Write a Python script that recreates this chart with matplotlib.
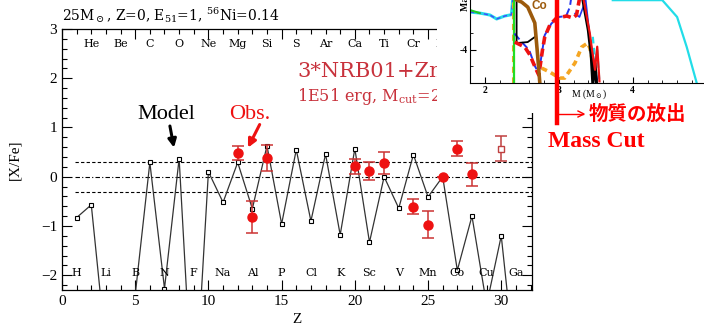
import matplotlib
matplotlib.use("Agg")
import matplotlib.pyplot as plt
from matplotlib.ticker import MultipleLocator, FixedLocator
from matplotlib.lines import Line2D
import numpy as np

plt.rcParams['font.family'] = ['Liberation Serif', 'DejaVu Serif']
plt.rcParams['mathtext.fontset'] = 'dejavuserif'

# ---------------- data ----------------
Z = list(range(1, 32))
model = [-0.83, -0.57, -3.5, -5.0, -2.4, 0.29, -2.27, 0.37, -5.0, 0.10,
         -0.52, 0.29, -0.65, 0.63, -0.96, 0.55, -0.90, 0.46, -1.18, 0.57,
         -1.33, 0.0, -0.64, 0.45, -0.41, 0.0, -1.90, -0.80, -2.6, -1.20, -4.0]

obs_Z = [12, 13, 14, 20, 21, 22, 24, 25, 26, 27, 28]
obs_val = [0.48, -0.82, 0.38, 0.21, 0.11, 0.28, -0.61, -0.97, 0.0, 0.57, 0.05]
obs_err = [0.15, 0.32, 0.27, 0.16, 0.18, 0.23, 0.15, 0.27, 0.0, 0.15, 0.23]
open_Z = [30]
open_val = [0.57]
open_err = [0.25]

ref_levels = [0.3, 0.0, -0.3]
top_elems = ['He', 'Be', 'C', 'O', 'Ne', 'Mg', 'Si', 'S', 'Ar', 'Ca', 'Ti', 'Cr', 'Fe', 'Ni', 'Zn']
top_Z = list(range(2, 31, 2))
bot_elems = ['H', 'Li', 'B', 'N', 'F', 'Na', 'Al', 'P', 'Cl', 'K', 'Sc', 'V', 'Mn', 'Co', 'Cu', 'Ga']
bot_Z = list(range(1, 32, 2))

# inset (mass-coordinate profiles), M in Msun, y = log10 X
cyan_top_M = [1.80, 1.93, 2.07, 2.16, 2.27, 2.36, 2.38]
cyan_top_y = [-2.85, -2.88, -2.94, -3.06, -2.97, -2.93, -2.40]
cyan_r_M = [3.73, 4.40, 4.60, 4.73, 4.865]
cyan_r_y = [-2.49, -2.49, -3.0, -3.91, -5.0]
cyan_d_M = [3.46, 3.49, 3.52, 3.55]
cyan_d_y = [-3.6, -4.3, -4.0, -5.0]
green_M = [1.80, 1.93]
green_y = [-2.79, -2.88]
green_v_M = [2.395, 2.395]
green_v_y = [-5.0, -2.4]
orange_v_M = [2.375, 2.375]
orange_v_y = [-5.0, -2.4]
orange_M = [2.77, 2.88, 3.01, 3.08, 3.22, 3.31, 3.39, 3.42, 3.47]
orange_y = [-4.55, -4.67, -4.85, -4.85, -4.39, -3.91, -3.79, -3.94, -4.5]
brown_M = [2.432, 2.50, 2.581, 2.676, 2.716, 2.743]
brown_y = [-2.485, -2.55, -2.70, -3.18, -4.21, -4.97]
black_M = [2.43, 2.43, 2.58, 2.68]
black_y = [-2.4, -3.79, -3.76, -3.60]
black_d_M = [3.32, 3.40, 3.44, 3.46, 3.49, 3.51]
black_d_y = [-2.4, -3.4, -4.2, -5.0, -4.4, -5.0]
red_M = [2.405, 2.54, 2.61, 2.68, 2.73, 2.78, 2.81, 2.88, 2.97, 3.11, 3.19, 3.24, 3.28]
red_y = [-3.76, -3.91, -4.15, -4.52, -4.76, -4.0, -3.61, -3.24, -3.03, -2.97, -3.03, -2.94, -2.45]
red_d_M = [3.33, 3.42, 3.45, 3.49, 3.52, 3.55]
red_d_y = [-2.4, -3.5, -4.0, -4.6, -3.9, -4.95]
blue_M = [2.40, 2.50, 2.60, 2.68, 2.73, 2.81, 2.90, 3.00, 3.10, 3.15, 3.17]
blue_y = [-3.5, -3.76, -4.0, -4.5, -4.7, -3.55, -3.2, -3.0, -2.97, -2.7, -2.4]
blue_s_M = [3.22, 3.28, 3.33, 3.36, 3.42, 3.47, 3.52]
blue_s_y = [-2.9, -3.0, -2.7, -2.4, -3.6, -4.3, -4.9]

# ---------------- figure ----------------
W, H = 704, 328
fig = plt.figure(figsize=(W / 100, H / 100), dpi=100)

def fx(px):
    return px / W

def fy(py):
    return 1 - py / H

ax = fig.add_axes([fx(62), fy(290), fx(532) - fx(62), fy(29) - fy(290)])
ax.set_xlim(0, 32.1)
ax.set_ylim(-2.3, 3)

for lvl, ls in zip(ref_levels, [(0, (3, 2)), (0, (4, 2, 1, 2)), (0, (3, 2))]):
    ax.plot([0.9, 32.1], [lvl, lvl], color='black', lw=0.8, linestyle=ls)

ax.plot(Z, model, color='#333333', lw=0.9, marker='s', ms=3.2,
        mfc='white', mec='black', mew=0.8)

ax.errorbar(obs_Z, obs_val, yerr=obs_err, fmt='o', color='#ee1111', ms=6.5,
            ecolor='#cc3333', elinewidth=1.1, capsize=4, capthick=1.1, zorder=5)
ax.errorbar(open_Z, open_val, yerr=open_err, fmt='s', color='#c04040', ms=5,
            mfc='white', mec='#c04040', ecolor='#c04040', elinewidth=1.1,
            capsize=4, capthick=1.1, zorder=5)

for z, e in zip(top_Z, top_elems):
    ax.text(z, 2.69, e, ha='center', va='center', fontsize=8, family='DejaVu Serif')
for z, e in zip(bot_Z, bot_elems):
    ax.text(z, -1.96, e, ha='center', va='center', fontsize=8, family='DejaVu Serif')

ax.xaxis.set_major_locator(MultipleLocator(5))
ax.xaxis.set_minor_locator(MultipleLocator(1))
ax.yaxis.set_major_locator(MultipleLocator(1))
ax.yaxis.set_minor_locator(MultipleLocator(0.2))
ax.tick_params(which='both', direction='in', top=True, right=True, labelsize=11, width=0.8)
ax.tick_params(which='major', length=7)
ax.tick_params(which='minor', length=3.5)
for s in ax.spines.values():
    s.set_linewidth(0.9)
ax.set_xlabel('Z', fontsize=11, labelpad=4)
ax.set_ylabel('[X/Fe]', fontsize=11, labelpad=14)

ax.text(7.1, 1.27, 'Model', fontsize=16, ha='center', va='center', color='black')
ax.annotate('', xy=(7.65, 0.59), xytext=(7.37, 1.03),
            arrowprops=dict(arrowstyle='-|>', color='black', lw=2.2, mutation_scale=12,
                            shrinkA=0, shrinkB=0))
ax.text(12.8, 1.27, 'Obs.', fontsize=16, ha='center', va='center', color='#ee1111')
ax.annotate('', xy=(12.7, 0.59), xytext=(13.5, 1.06),
            arrowprops=dict(arrowstyle='-|>', color='#ee1111', lw=2.2, mutation_scale=12,
                            shrinkA=0, shrinkB=0))

ax.text(16.05, 2.14, '3*NRB01+Zn', fontsize=15, color='#c8323c', ha='left', va='center',
        family='DejaVu Serif')
ax.text(16.05, 1.63, r'1E51 erg, M$_{\rm cut}$=2.0M$_\odot$', fontsize=11.5,
        color='#c8323c', ha='left', va='center', family='DejaVu Serif')

fig.text(fx(62), fy(15), r'25M$_\odot$, Z=0, E$_{51}$=1, $^{56}$Ni=0.14',
         fontsize=10, ha='left', va='center', family='DejaVu Serif')

# white cover where the inset sits
cover = fig.add_axes([fx(437), fy(113), 1 - fx(437), 1 - fy(113)], zorder=5)
cover.set_facecolor('white')
cover.set_xticks([]); cover.set_yticks([])
for s in cover.spines.values():
    s.set_visible(False)

# inset
ins = fig.add_axes([fx(470), fy(83), fx(703) - fx(470), 1 - fy(83)], zorder=6)
ins.set_xlim(1.8, 4.95)
ins.set_ylim(-5.0, -2.485)
ins.spines['top'].set_visible(False)
ins.spines['right'].set_visible(False)
ins.plot(cyan_top_M, cyan_top_y, color='#22dde8', lw=2.2)
ins.plot(cyan_top_M, cyan_top_y, color='#4444ff', lw=1.0, linestyle=(0, (3, 2)))
ins.plot(green_M, green_y, color='#22cc22', lw=1.5)
ins.plot(cyan_r_M, cyan_r_y, color='#22dde8', lw=1.6)
ins.plot(cyan_d_M, cyan_d_y, color='#22dde8', lw=1.6, linestyle=(0, (3, 2)))
ins.plot(orange_v_M, orange_v_y, color='#f5a623', lw=2.2, linestyle=(0, (2, 1.5)))
ins.plot(green_v_M, green_v_y, color='#22dd22', lw=1.6)
ins.plot(orange_M, orange_y, color='#f5a623', lw=2.6, linestyle=(0, (1.6, 1.2)))
ins.plot(blue_M, blue_y, color='#2233ee', lw=1.4, linestyle=(0, (4, 2)))
ins.plot(blue_s_M, blue_s_y, color='#2233ee', lw=1.2)
ins.plot(black_M, black_y, color='black', lw=1.3)
ins.plot(black_d_M, black_d_y, color='black', lw=2.2)
ins.plot(red_M, red_y, color='#ee1111', lw=2.6, linestyle=(0, (2.2, 1.2)))
ins.plot(red_d_M, red_d_y, color='#ee1111', lw=1.6)
ins.plot(brown_M, brown_y, color='#9c5a0c', lw=2.6)
ins.text(2.74, -2.68, 'Co', color='#9c5a0c', fontsize=8.5, fontweight='bold',
         family='Liberation Sans', ha='center', va='center')
ins.xaxis.set_major_locator(FixedLocator([2, 3, 4]))
ins.xaxis.set_minor_locator(MultipleLocator(0.2))
ins.yaxis.set_major_locator(FixedLocator([-4]))
ins.yaxis.set_minor_locator(FixedLocator([-4.5, -3.5]))
ins.set_yticklabels(['-4'])
ins.tick_params(which='both', direction='in', labelsize=7, pad=2)
ins.tick_params(which='major', length=4)
ins.tick_params(which='minor', length=2)
for lab in ins.get_xticklabels() + ins.get_yticklabels():
    lab.set_fontweight('bold')
ins.set_xlabel(r'M (M$_\odot$)', fontsize=7, labelpad=0)
ins.xaxis.set_label_coords(0.51, -0.05)
fig.text(fx(465), fy(11), 'Mass Fraction', rotation=90, fontsize=7, fontweight='bold',
         ha='center', va='bottom', zorder=10)

# mass-cut marker and labels
fig.add_artist(Line2D([fx(557), fx(557)], [fy(0), fy(123)], color='#ff0000', lw=3.2, zorder=10))
fig.add_artist(Line2D([fx(558), fx(583)], [fy(114), fy(114)], color='#ff0000', lw=1.0, zorder=10))
fig.add_artist(Line2D([fx(578), fx(584), fx(578)], [fy(111), fy(114), fy(117)],
                      color='#ff0000', lw=1.0, zorder=10))
fig.text(fx(589), fy(114), '物質の放出', color='#ff0000', fontsize=14, fontweight='bold',
         family=['Noto Sans CJK JP', 'DejaVu Sans'], ha='left', va='center', zorder=10)
fig.text(fx(596), fy(141), 'Mass Cut', color='#ff0000', fontsize=17, fontweight='bold',
         ha='center', va='center', zorder=10)

fig.savefig('out.png', dpi=100)
